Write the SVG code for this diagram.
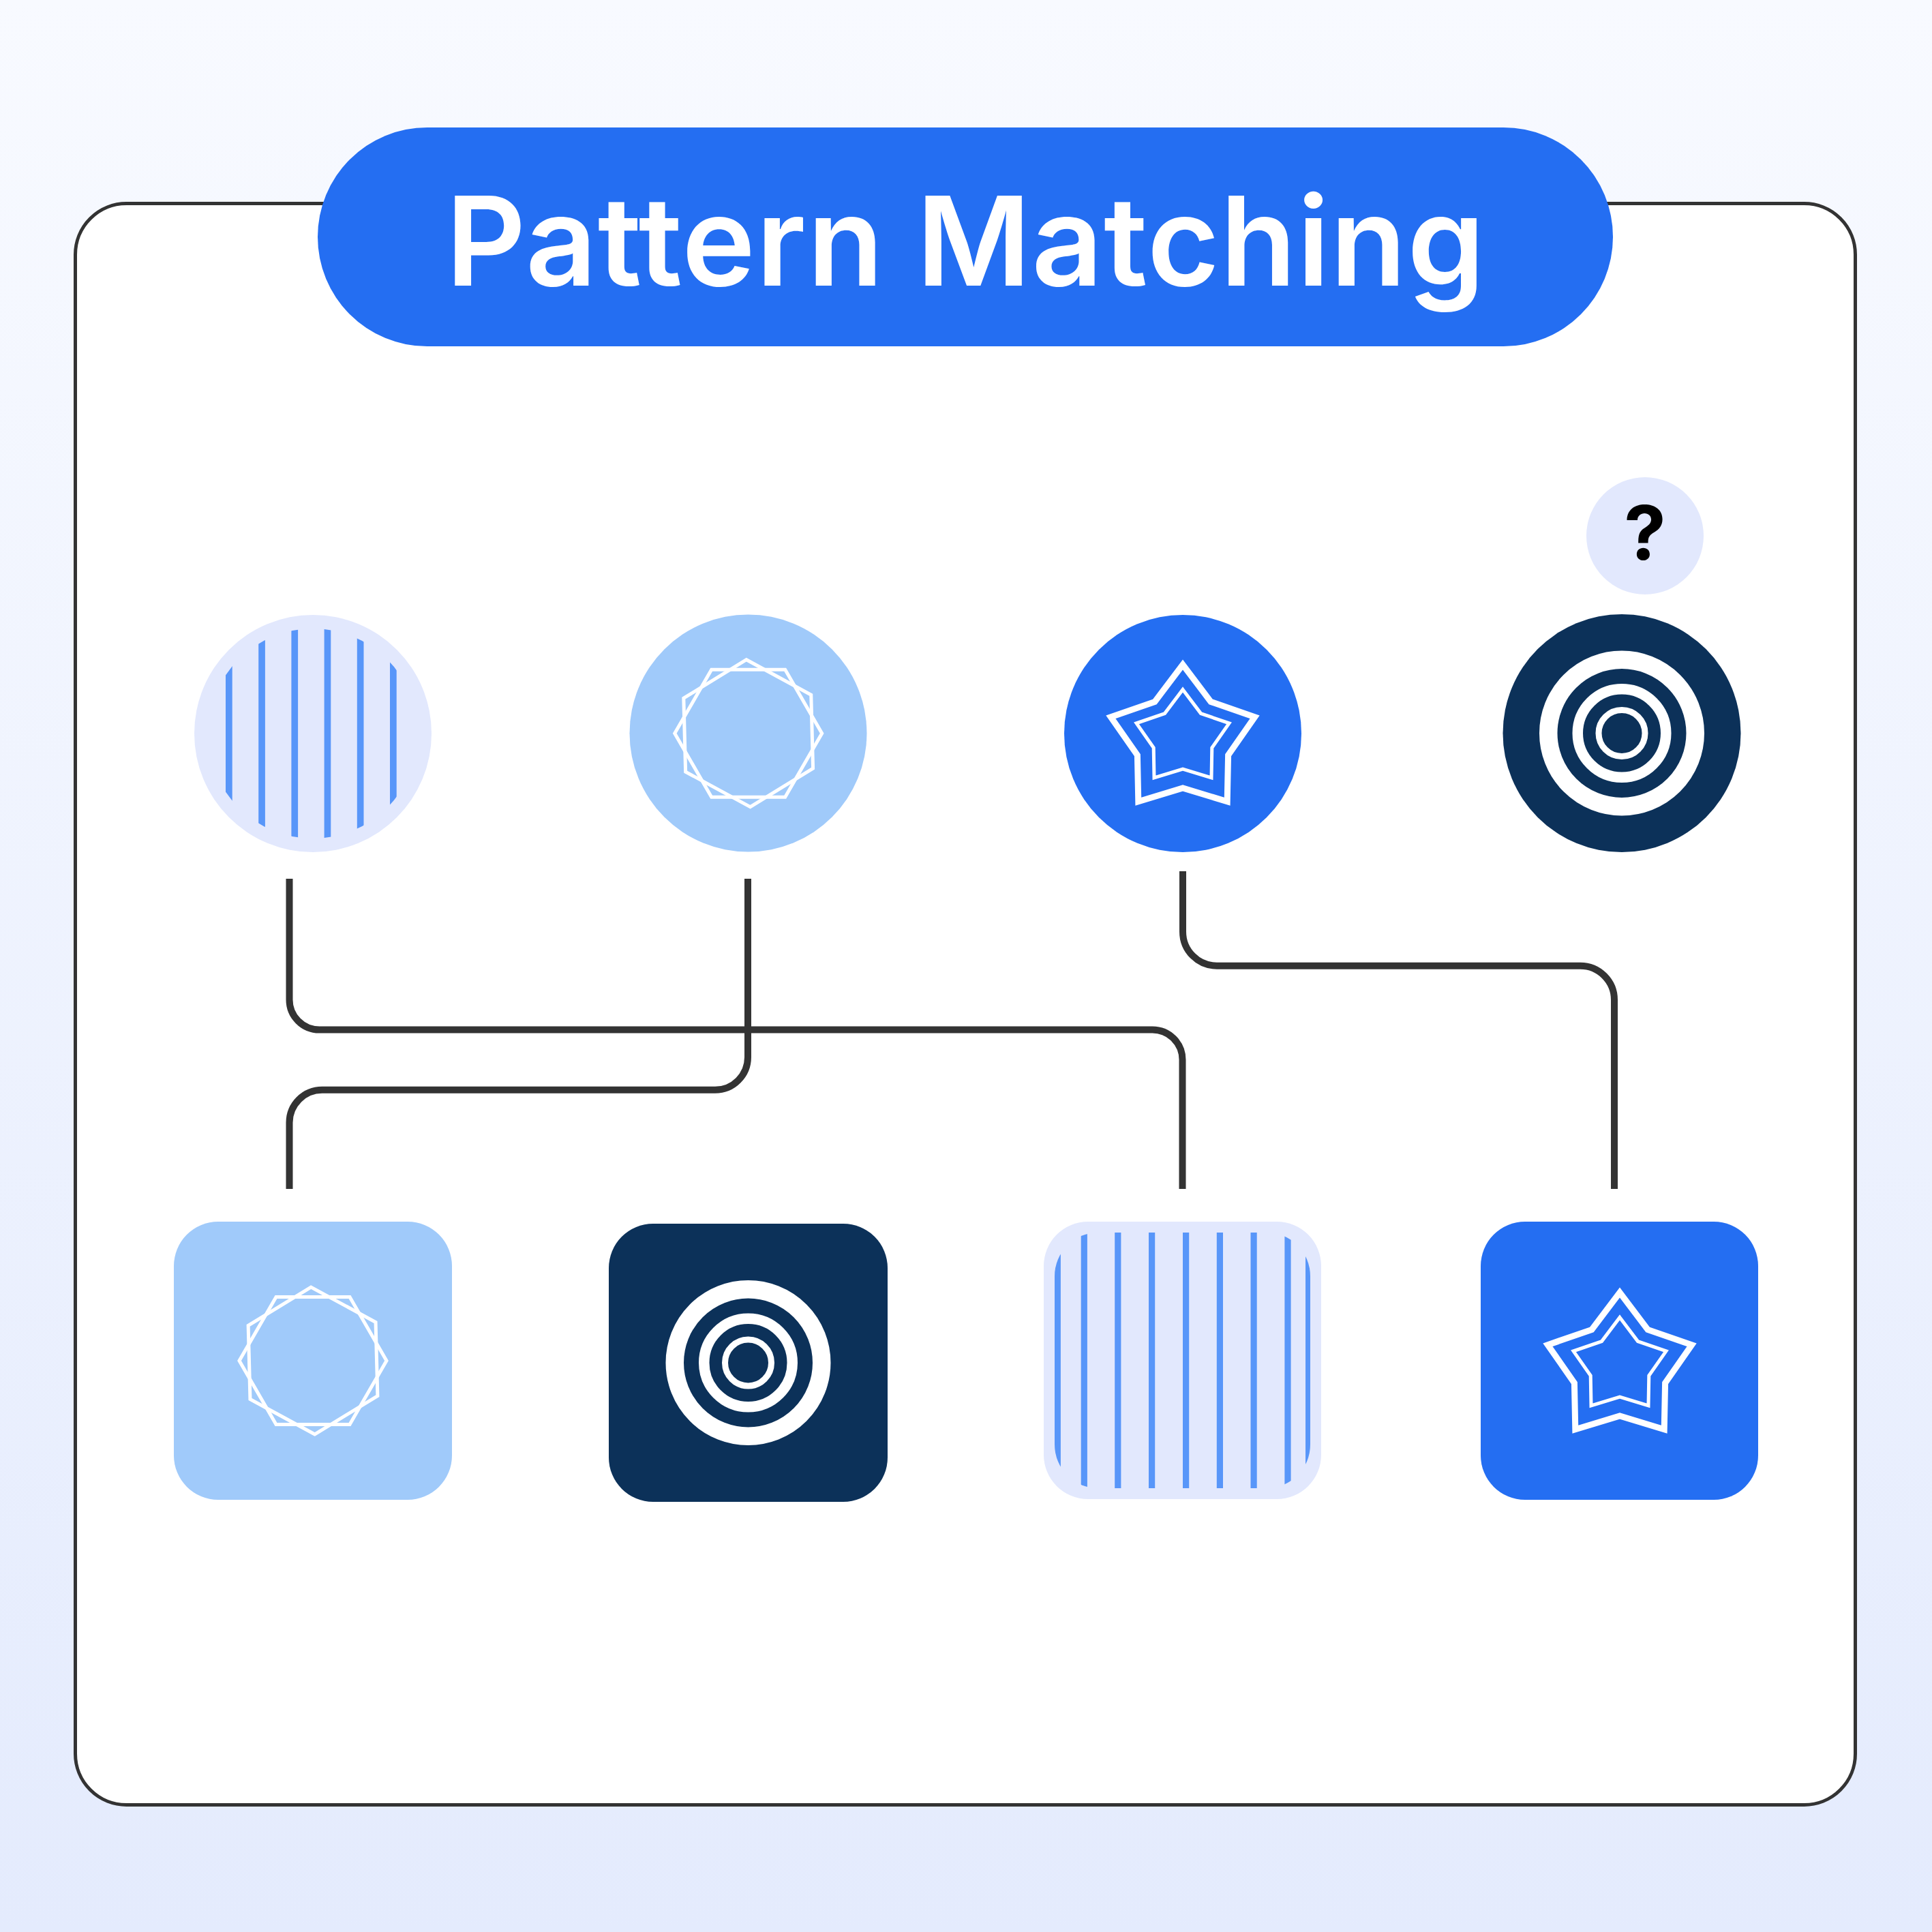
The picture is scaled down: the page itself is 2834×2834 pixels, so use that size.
<svg xmlns="http://www.w3.org/2000/svg" xmlns:xlink="http://www.w3.org/1999/xlink" width="2834" height="2834" viewBox="0 0 2834 2834">
  <style>
    .conn { fill: none; stroke: #333333; stroke-width: 10; stroke-linecap: butt; }
    .hex { fill: none; stroke: #FFFFFF; stroke-width: 5; stroke-linejoin: miter; }
    .starO { fill: none; stroke: #FFFFFF; stroke-width: 9; stroke-linejoin: miter; stroke-miterlimit: 10; }
    .starI { fill: none; stroke: #FFFFFF; stroke-width: 5; stroke-linejoin: miter; stroke-miterlimit: 10; }
    .stripe { fill: #5896F9; }
    .title { font-family: Inter, "Liberation Sans", Arial, sans-serif; font-weight: 600; font-size: 182px; fill: #FFFFFF; }
    .q { font-family: Inter, "Liberation Sans", Arial, sans-serif; font-weight: 700; font-size: 110px; fill: #000000; }
  </style>
  <defs>
    <linearGradient id="bg" x1="0" y1="0" x2="0" y2="1">
      <stop offset="0" stop-color="#F8FAFF"/>
      <stop offset="1" stop-color="#E4EBFD"/>
    </linearGradient>
    <polygon id="hexShape" class="hex" points="108,0 54,93.5 -54,93.5 -108,0 -54,-93.5 54,-93.5"/>
    <g id="hexIcon">
      <use xlink:href="#hexShape"/>
      <use xlink:href="#hexShape" transform="rotate(88.5)"/>
    </g>
    <g id="starIcon">
      <polygon class="starO" transform="translate(0,10)" points="0,-111 41.1,-56.6 105.6,-34.3 66.6,21.6 65.2,89.8 0,70 -65.2,89.8 -66.6,21.6 -105.6,-34.3 -41.1,-56.6"/>
      <polygon class="starI" transform="translate(0,7)" points="0,-71.5 26.5,-36.4 68,-22.1 42.8,13.9 42,57.8 0,45 -42,57.8 -42.8,13.9 -68,-22.1 -26.5,-36.4"/>
    </g>
    <g id="ringIcon" fill="none" stroke="#FFFFFF">
      <circle r="107.75" stroke-width="26.5"/>
      <circle r="64.75" stroke-width="15.5"/>
      <circle r="34" stroke-width="9"/>
    </g>
    <clipPath id="clipCircStripes">
      <circle cx="459" cy="1076" r="154"/>
    </clipPath>
    <clipPath id="clipSqStripes">
      <rect x="1547" y="1808" width="375" height="375" rx="64"/>
    </clipPath>
  </defs>

  <rect x="0" y="0" width="2834" height="2834" fill="url(#bg)"/>

  <g id="frame">
    <rect x="110.5" y="298.5" width="2611" height="2349" rx="75" fill="#FFFFFF" stroke="#333333" stroke-width="5"/>
  </g>

  <g id="title">
    <rect x="466" y="187" width="1900" height="321" rx="160.5" fill="#246EF2"/>
    <text class="title" x="1416" y="419" text-anchor="middle" textLength="1524" lengthAdjust="spacing">Pattern Matching</text>
  </g>

  <g id="connectors">
    <path class="conn" d="M424.5 1289 V1466.5 A44 44 0 0 0 468.5 1510.5 H1690.5 A44 44 0 0 1 1734.5 1554.5 V1744"/>
    <path class="conn" d="M1097 1289 V1550.8 A48 48 0 0 1 1049 1598.8 H472.5 A48 48 0 0 0 424.5 1646.8 V1744"/>
    <path class="conn" d="M1735 1278 V1366.7 A50 50 0 0 0 1785 1416.7 H2318 A50 50 0 0 1 2368 1466.7 V1744"/>
  </g>

  <g id="node-stripes-circle">
    <circle cx="459" cy="1076" r="174" fill="#E2E8FD"/>
    <g clip-path="url(#clipCircStripes)">
      <rect class="stripe" x="331" y="900" width="9.7" height="360"/>
      <rect class="stripe" x="379.2" y="900" width="9.7" height="360"/>
      <rect class="stripe" x="427.4" y="900" width="9.7" height="360"/>
      <rect class="stripe" x="475.6" y="900" width="9.7" height="360"/>
      <rect class="stripe" x="523.8" y="900" width="9.7" height="360"/>
      <rect class="stripe" x="572" y="900" width="9.7" height="360"/>
    </g>
  </g>

  <g id="node-hex-circle">
    <circle cx="1097.5" cy="1075.5" r="174" fill="#A0CAFA"/>
    <use xlink:href="#hexIcon" transform="translate(1097.7,1075.7)"/>
  </g>

  <g id="node-star-circle">
    <circle cx="1735" cy="1076" r="174" fill="#246EF2"/>
    <use xlink:href="#starIcon" transform="translate(1735,1076)"/>
  </g>

  <g id="node-ring-circle">
    <circle cx="2379" cy="1075.5" r="174.5" fill="#0C3159"/>
    <use xlink:href="#ringIcon" transform="translate(2379,1075.5)"/>
  </g>

  <g id="node-question">
    <circle cx="2413" cy="786" r="86" fill="#E2E8FD"/>
    <text class="q" x="2413" y="821" text-anchor="middle">?</text>
  </g>

  <g id="node-hex-square">
    <rect x="255" y="1792" width="408" height="408" rx="65" fill="#A0CAFA"/>
    <use xlink:href="#hexIcon" transform="translate(459,1996)"/>
  </g>

  <g id="node-ring-square">
    <rect x="893" y="1795" width="409" height="408" rx="65" fill="#0C3159"/>
    <use xlink:href="#ringIcon" transform="translate(1097.5,1999)"/>
  </g>

  <g id="node-stripes-square">
    <rect x="1531" y="1792" width="407" height="407" rx="65" fill="#E2E8FD"/>
    <g clip-path="url(#clipSqStripes)">
      <rect class="stripe" x="1546.7" y="1800" width="9.2" height="390"/>
      <rect class="stripe" x="1585.7" y="1800" width="9.2" height="390"/>
      <rect class="stripe" x="1635.2" y="1800" width="9.2" height="390"/>
      <rect class="stripe" x="1685" y="1800" width="9.2" height="390"/>
      <rect class="stripe" x="1735" y="1800" width="9.2" height="390"/>
      <rect class="stripe" x="1784.8" y="1800" width="9.2" height="390"/>
      <rect class="stripe" x="1834.5" y="1800" width="9.2" height="390"/>
      <rect class="stripe" x="1884.4" y="1800" width="9.2" height="390"/>
      <rect class="stripe" x="1915" y="1800" width="9.2" height="390"/>
    </g>
  </g>

  <g id="node-star-square">
    <rect x="2172" y="1792" width="407" height="408" rx="65" fill="#246EF2"/>
    <use xlink:href="#starIcon" transform="translate(2376,1997)"/>
  </g>
</svg>
